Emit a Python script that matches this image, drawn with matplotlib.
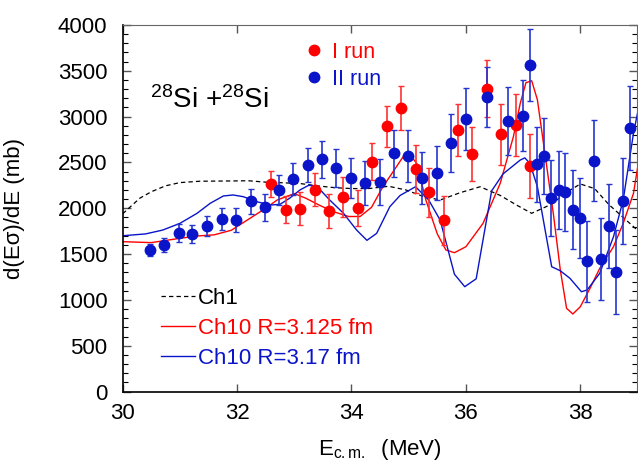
import matplotlib
matplotlib.use("Agg")
import matplotlib.pyplot as plt
from matplotlib.lines import Line2D
from matplotlib.ticker import MultipleLocator

plt.rcParams['font.family'] = ['Liberation Sans', 'DejaVu Sans']
plt.rcParams['mathtext.fontset'] = 'custom'
plt.rcParams['mathtext.rm'] = 'Liberation Sans'
plt.rcParams['mathtext.it'] = 'Liberation Sans'

# ---- data: I run (red) ----
x_run1 = [32.60, 32.86, 33.10, 33.36, 33.61, 33.86, 34.11, 34.36, 34.62, 34.87,
          35.12, 35.36, 35.61, 35.87, 36.11, 36.37, 36.62, 36.87, 37.12]
y_run1 = [2264, 1984, 1992, 2203, 1970, 2126, 2003, 2508, 2894, 3094,
          2425, 2174, 1868, 2854, 2592, 3305, 2807, 2905, 2461]
e_run1 = [142, 145, 180, 178, 185, 220, 200, 200, 227, 236,
          260, 270, 270, 287, 290, 310, 336, 340, 350]

# ---- data: II run (blue) ----
x_run2 = [30.48, 30.73, 30.98, 31.22, 31.48, 31.73, 31.98, 32.24, 32.48, 32.73,
          32.98, 33.24, 33.48, 33.73, 33.99, 34.24, 34.49, 34.74, 34.99, 35.24,
          35.49, 35.74, 36.00, 36.37, 36.74, 36.99, 37.12, 37.24, 37.37, 37.49,
          37.62, 37.74, 37.87, 37.99, 38.12, 38.24, 38.37, 38.50, 38.62, 38.75, 38.87]
y_run2 = [1544, 1599, 1730, 1722, 1806, 1879, 1868, 2075, 2010, 2199,
          2319, 2472, 2534, 2436, 2333, 2275, 2283, 2600, 2570, 2333,
          2388, 2712, 2974, 3214, 2952, 3010, 3563, 2479, 2567, 2112,
          2199, 2177, 1984, 1890, 1421, 2519, 1446, 1806, 1304, 2082, 2879]
e_run2 = [65, 80, 100, 100, 110, 120, 130, 135, 150, 160,
          170, 190, 200, 207, 216, 236, 250, 255, 280, 285,
          295, 313, 333, 330, 376, 390, 395, 410, 413, 420,
          424, 422, 433, 436, 444, 444, 446, 458, 455, 469, 460]

# ---- curve: Ch1 ----
x_ch1 = [30.0, 30.3, 30.5, 30.75, 31.0, 31.35, 31.9, 32.2, 32.5, 32.8, 33.1, 33.4,
         33.7, 34.0, 34.3, 34.65, 34.95, 35.25, 35.55, 35.9, 36.25, 36.6, 36.9,
         37.15, 37.5, 37.75, 38.0, 38.25, 38.5, 38.75, 39.0]
y_ch1 = [1940, 2110, 2180, 2245, 2280, 2295, 2298, 2300, 2285, 2278, 2270, 2245,
         2225, 2215, 2215, 2240, 2200, 2130, 2090, 2170, 2235, 2140, 2030,
         1945, 2045, 2170, 2265, 2215, 2040, 1900, 1760]

# ---- curve: Ch10 R=3.125 fm ----
x_r3125 = [30.0, 30.5, 31.0, 31.3, 31.6, 31.9, 32.2, 32.5, 32.7, 33.0, 33.2, 33.45,
           33.7, 33.95, 34.15, 34.35, 34.55, 34.75, 34.9, 35.02, 35.14, 35.3, 35.5,
           35.65, 35.8, 36.0, 36.3, 36.6, 36.83, 36.95, 37.05, 37.15, 37.25, 37.35,
           37.53, 37.65, 37.76, 37.87, 38.0, 38.17, 38.34, 38.58, 38.75, 38.93, 39.0]
y_r3125 = [1635, 1625, 1672, 1697, 1710, 1760, 1880, 2000, 2090, 2160, 2110, 2030,
           1960, 1910, 1910, 2010, 2235, 2420, 2560, 2585, 2490, 2090, 1720,
           1545, 1515, 1580, 1835, 2272, 2780, 3145, 3370, 3392, 3184, 2738,
           1935, 1330, 908, 846, 925, 1126, 1344, 1580, 1835, 2163, 2436]

# ---- curve: Ch10 R=3.17 fm ----
x_r317 = [30.0, 30.4, 30.7, 31.0, 31.3, 31.53, 31.76, 31.93, 32.11, 32.34, 32.58,
          32.75, 32.92, 33.1, 33.25, 33.39, 33.62, 33.86, 34.09, 34.27, 34.44, 34.67,
          34.85, 35.12, 35.35, 35.55, 35.8, 35.98, 36.18, 36.45, 36.65, 36.95, 37.03,
          37.12, 37.25, 37.5, 37.65, 37.82, 38.02, 38.12, 38.34, 38.58, 38.75, 38.93, 39.0]
y_r317 = [1700, 1720, 1762, 1835, 1945, 2054, 2134, 2145, 2126, 2072, 2035,
          2043, 2110, 2200, 2250, 2243, 2090, 1945, 1762, 1650, 1726, 2017,
          2140, 2235, 2090, 1871, 1280, 1144, 1230, 2190, 2375, 2526, 2550,
          2490, 2235, 1362, 1318, 1235, 1089, 1108, 1290, 1689, 2090, 2818, 3036]

RED = '#ff0000'
BLUE = '#0a14c8'

fig = plt.figure(figsize=(6.38, 4.63), dpi=100)
ax = fig.add_axes([0.1923, 0.1544, 0.8069, 0.7916])

l1, = ax.plot(x_ch1, y_ch1, color='black', lw=0.9, ls=(0, (3.5, 2.5)))
l2, = ax.plot(x_r3125, y_r3125, color=RED, lw=1.0)
l3, = ax.plot(x_r317, y_r317, color=BLUE, lw=1.0)

ax.errorbar(x_run1, y_run1, yerr=e_run1, fmt='o', color=RED, ms=7.5,
            ecolor='#ff3030', elinewidth=1.2, capsize=2.5, capthick=1.0, zorder=3)
ax.errorbar(x_run2, y_run2, yerr=e_run2, fmt='o', color=BLUE, ms=7.5,
            ecolor='#2535d0', elinewidth=1.2, capsize=2.5, capthick=1.0, zorder=3)

ax.set_xlim(30, 39)
ax.set_ylim(0, 4000)
ax.xaxis.set_major_locator(MultipleLocator(2))
ax.yaxis.set_major_locator(MultipleLocator(500))
ax.yaxis.set_minor_locator(MultipleLocator(100))
ax.tick_params(which='both', direction='in', top=True, right=True, labelsize=16)
ax.tick_params(axis='y', which='major', length=6, width=1.0, pad=11, color='#555555')
ax.tick_params(axis='y', which='minor', length=3.5, width=0.8)
ax.tick_params(axis='x', which='major', length=6, width=1.0, pad=8, color='#555555')
for side in ['left', 'bottom']:
    ax.spines[side].set_linewidth(1.2)
ax.spines['top'].set_color('#666666')
ax.spines['right'].set_color('#666666')

ax.set_ylabel('d(Eσ)/dE (mb)', fontsize=16)
ax.yaxis.set_label_coords(-0.19, 0.5)
ax.set_xlabel(r'E$_{\mathrm{c.m.}}$  (MeV)', fontsize=16)
ax.xaxis.set_label_coords(0.5, -0.125)

ax.text(0.053, 0.773, r'$^{28}$Si +$^{28}$Si', transform=ax.transAxes,
        fontsize=20, va='baseline', ha='left')

h1 = Line2D([], [], ls='none', marker='o', color=RED, ms=7.5)
h2 = Line2D([], [], ls='none', marker='o', color=BLUE, ms=7.5)
leg1 = ax.legend([h1, h2], ['I run', 'II run'], loc='upper left',
                 bbox_to_anchor=(0.326, 0.996), frameon=False, fontsize=15.5,
                 handlelength=0.8, handletextpad=0.45, labelspacing=0.28,
                 borderaxespad=0.3)
for t, c in zip(leg1.get_texts(), [RED, BLUE]):
    t.set_color(c)
ax.add_artist(leg1)

leg2 = ax.legend([l1, l2, l3], ['Ch1', 'Ch10 R=3.125 fm', 'Ch10 R=3.17 fm'],
                 loc='lower left', bbox_to_anchor=(0.045, 0.02), frameon=False,
                 fontsize=16, handlelength=1.5, handletextpad=0.15,
                 labelspacing=0.4, borderaxespad=0.3)
for t, c in zip(leg2.get_texts(), ['black', RED, BLUE]):
    t.set_color(c)

fig.savefig('out.png', dpi=100)
